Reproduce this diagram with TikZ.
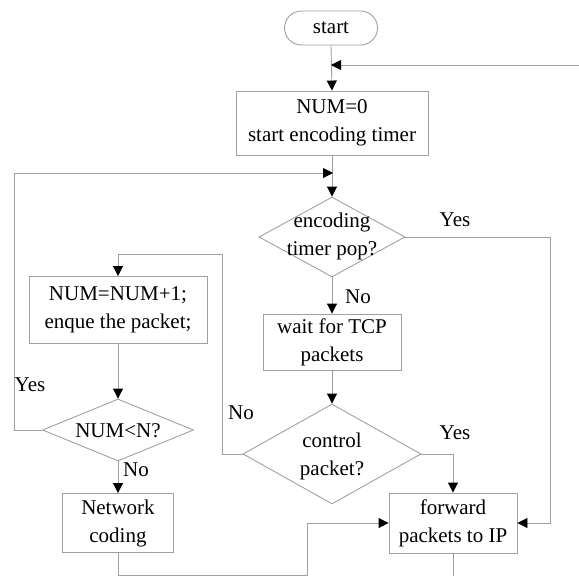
\documentclass[tikz,border=0pt]{standalone}
\usepackage{fontspec}
\setmainfont{Liberation Serif}
\usetikzlibrary{arrows.meta,shapes.geometric}
\definecolor{linegray}{RGB}{160,160,160}
\tikzset{
  box/.style={draw=linegray,line width=.9pt,rectangle,inner sep=0pt,align=center},
  term/.style={box,rounded corners=17pt},
  dec/.style={draw=linegray,line width=.9pt,diamond,inner sep=0pt},
  arr/.style={draw=linegray,line width=.9pt,-{Triangle[width=10pt,length=10pt,color=black]}},
  ln/.style={draw=linegray,line width=.9pt},
}
\begin{document}
\begin{tikzpicture}[x=1pt,y=-1pt,font=\fontsize{21}{28}\selectfont]
			\useasboundingbox (0,0) rectangle (579,576);
			% main column
			\node[term,minimum width=93,minimum height=34] (start) at (331,28) {start};
			\node[box,minimum width=192,minimum height=64] (init) at (332,123) {NUM=0\\start encoding timer};
			\node[dec,minimum width=146,minimum height=80] (timer) at (332,237) {};
			\node[align=center] (timertext) at (332,236) {encoding\\timer pop?};
			\node[box,minimum width=138,minimum height=56] (wait) at (332,342) {wait for TCP\\packets};
			\node[dec,minimum width=178,minimum height=100] (ctrl) at (332,454) {};
			\node[align=center] (ctrltext) at (332,456) {control\\packet?};
			\node[box,minimum width=128,minimum height=60] (fwd) at (453,523) {forward\\packets to IP};
			% left column
			\node[box,minimum width=178,minimum height=67] (incr) at (118,310) {NUM=NUM+1;\\enque the packet;};
			\node[dec,minimum width=151,minimum height=62] (less) at (118,430) {};
			\node (lesstext) at (118,431) {NUM<N?};
			\node[box,minimum width=111,minimum height=59] (coding) at (118,523) {Network\\coding};
			% free ends
			\coordinate (rin) at (579,65);
			\coordinate (lin) at (333,173);
			\coordinate (bend) at (118,254);
			\coordinate (out) at (453,576);
			% connectors
			\draw[arr] (start.south) -- (init.north);
			\draw[arr] (rin) -- (start.south |- rin);
			\draw[arr] (init.south) -- (timer.north);
			\draw[arr] (less.west) -- ++(-28,0) |- (lin);
			\draw[arr] (timer.east) -- ++(145,0) |- (fwd.east);
			\draw[arr] (timer.south) -- (wait.north);
			\draw[arr] (wait.south) -- (ctrl.north);
			\draw[arr] (ctrl.east) -| (fwd.north);
			\draw[ln] (ctrl.west) -- ++(-20,0) |- (bend);
			\draw[arr] (bend) -- (incr.north);
			\draw[arr] (incr.south) -- (less.north);
			\draw[arr] (less.south) -- (coding.north);
			\draw[arr] (coding.south) -- ++(0,22) -| ++(189,0) |- (fwd.west);
			\draw[ln] (fwd.south) -- (out);
			% labels
			\foreach \p/\t/\n in {{(455,220)}/Yes/ya,{(358,297)}/No/na,{(455,433)}/Yes/yb,{(241,413)}/No/nb,{(30,385)}/Yes/yc,{(136,470)}/No/nc}
				\node (\n) at \p {\t};
		\end{tikzpicture}
\end{document}
